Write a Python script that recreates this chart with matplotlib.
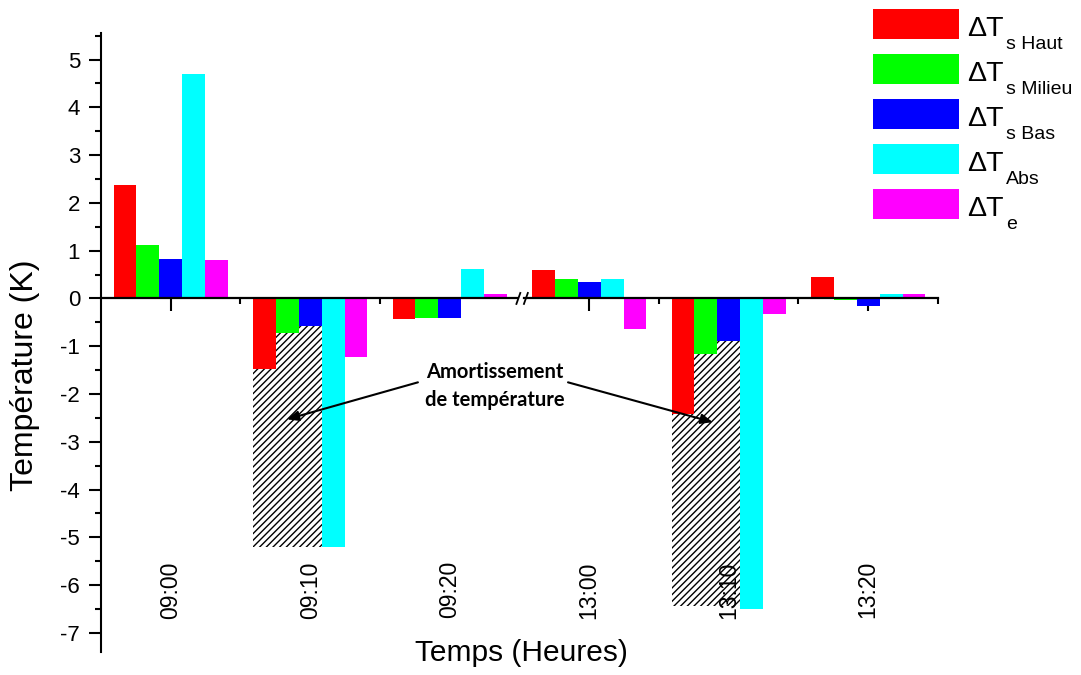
import numpy as np
import matplotlib
matplotlib.use("Agg")
import matplotlib.pyplot as plt
from matplotlib.patches import Rectangle

plt.rcParams['font.family'] = ['Liberation Sans', 'DejaVu Sans']
plt.rcParams['hatch.linewidth'] = 1.0

# Time steps on the horizontal axis
times = ["09:00", "09:10", "09:20", "13:00", "13:10", "13:20"]

# Temperature differences (K) for each series
dT_s_haut = [2.38, -1.48, -0.42, 0.59, -2.41, 0.45]
dT_s_milieu = [1.12, -0.73, -0.41, 0.40, -1.17, -0.04]
dT_s_bas = [0.83, -0.58, -0.40, 0.35, -0.89, -0.15]
dT_abs = [4.70, -5.20, 0.61, 0.40, -6.50, 0.10]
dT_e = [0.80, -1.23, 0.10, -0.63, -0.32, 0.10]

series = [dT_s_haut, dT_s_milieu, dT_s_bas, dT_abs, dT_e]
colors = ["#ff0000", "#00ff00", "#0000ff", "#00ffff", "#ff00ff"]
legend_main = ["\u0394T"] * 5
legend_sub = ["s Haut", "s Milieu", "s Bas", "Abs", "e"]

# Damping zones (hatched): group index and lower bound
damp_groups = [1, 4]
damp_bottom = [-5.20, -6.43]

fig = plt.figure(figsize=(10.81, 6.75), dpi=100)
ax = fig.add_axes([0.0934, 0.0341, 0.7743, 0.9166])

x = np.arange(len(times))
w = 0.164
offsets = (np.arange(len(series)) - 2) * w

# hatched damping area under the sensor bars, down to the absorber value
for g, yb in zip(damp_groups, damp_bottom):
    top = dT_s_bas[g]
    left = x[g] + offsets[0] - w / 2
    right = x[g] + offsets[2] + w / 2
    ax.add_patch(Rectangle((left, yb), right - left, top - yb,
                           facecolor="white", edgecolor="black",
                           linewidth=0, hatch="/////", zorder=1))

for vals, off, c in zip(series, offsets, colors):
    ax.bar(x + off, vals, width=w, color=c, edgecolor="none", zorder=2)

ax.set_xlim(-0.5, 5.5)
ax.set_ylim(-7.4, 5.55)

# axes styling
for s in ["top", "right"]:
    ax.spines[s].set_visible(False)
ax.spines["left"].set_linewidth(1.5)
ax.spines["bottom"].set_position(("data", 0))
ax.spines["bottom"].set_visible(False)

ax.set_yticks(np.arange(-7, 6, 1))
ax.set_yticks(np.arange(-7, 5.6, 0.5), minor=True)
ax.tick_params(axis="y", which="major", direction="out", length=9, width=1.5,
               labelsize=16, pad=6)
ax.tick_params(axis="y", which="minor", direction="out", length=4.5, width=1.5)
ax.yaxis.set_major_formatter(matplotlib.ticker.FuncFormatter(
    lambda v, p: f"{int(v)}" if v >= 0 else f"-{int(-v)}"))

ax.set_xticks(x)
ax.set_xticks([0.5, 1.5, 3.5, 4.5, 5.5], minor=True)
ax.tick_params(axis="x", which="major", direction="out", length=9, width=1.5,
               labelbottom=False)
ax.tick_params(axis="x", which="minor", direction="out", length=4.5, width=1.5)

# zero line with an axis break between the morning and afternoon groups
ax.plot([-0.5, 2.48], [0, 0], color="black", lw=1.6, zorder=3, clip_on=False)
ax.plot([2.535, 5.5], [0, 0], color="black", lw=1.6, zorder=3, clip_on=False)
for xb in (2.492, 2.546):
    ax.plot([xb - 0.014, xb + 0.014], [-0.115, 0.115], color="black",
            lw=1.3, zorder=3)

# category labels, rotated, near the bottom of the plot
for xi, t in zip(x, times):
    ax.text(xi, -5.5, t, rotation=90, ha="center", va="top", fontsize=16.5)

fig.text(521 / 1081, 1 - 653 / 675, "Temps (Heures)", ha="center",
         va="center", fontsize=21.5)
fig.text(25 / 1081, 1 - 375 / 675, "Température (K)", ha="center",
         va="center", rotation=90, fontsize=23)

# annotation
ax.text(2.324, -1.84, "Amortissement\nde température", ha="center",
        va="center", fontsize=14.5, fontweight="bold", family="Lato",
        linespacing=1.5, zorder=5)
for tip, start in [((0.833, -2.53), (1.772, -1.756)),
                   ((3.885, -2.59), (2.848, -1.756))]:
    ax.annotate("", xy=tip, xytext=start,
                arrowprops=dict(arrowstyle="-|>,head_length=0.7,head_width=0.3",
                                color="black", lw=1.5, shrinkA=0, shrinkB=0),
                zorder=5)

# legend drawn in figure pixels
W, H = 1081, 675
for i, (c, m, s) in enumerate(zip(colors, legend_main, legend_sub)):
    y0 = 9 + 45 * i
    fig.add_artist(Rectangle((873 / W, 1 - (y0 + 30) / H), 86 / W, 30 / H,
                             facecolor=c, edgecolor="none",
                             transform=fig.transFigure))
    fig.text(967 / W, 1 - (y0 + 27) / H, m, fontsize=20.5, va="baseline",
             ha="left")
    fig.text(1006 / W, 1 - (y0 + 40) / H, s, fontsize=14, va="baseline",
             ha="left")

fig.savefig("out.png", dpi=100)
